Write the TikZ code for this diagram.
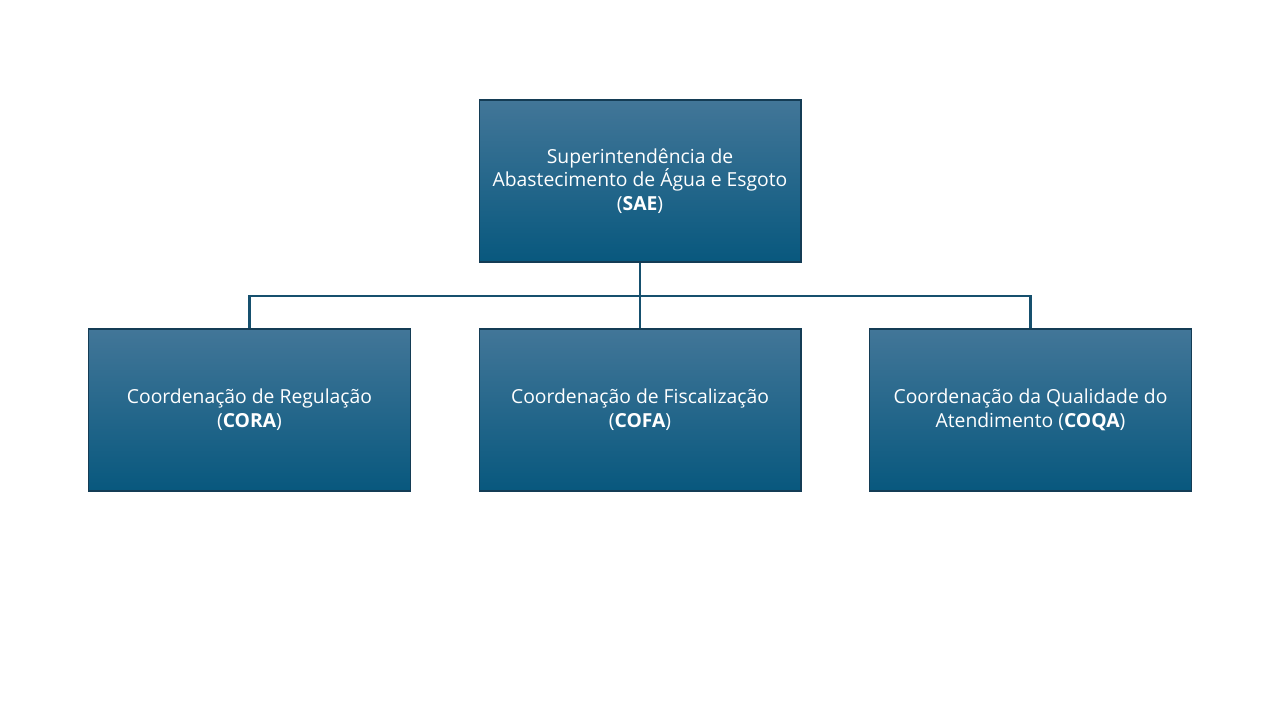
\documentclass[tikz,border=0pt]{standalone}
\usepackage{fontspec}
\setmainfont{Open Sans}
\usetikzlibrary{positioning}
\definecolor{boxtop}{RGB}{66,118,152}
\definecolor{boxbot}{RGB}{8,88,126}
\definecolor{edgeblue}{RGB}{20,60,85}
\definecolor{linkblue}{RGB}{22,80,110}

\begin{document}
\begin{tikzpicture}[x=0.02cm, y=-0.02cm, font=\fontsize{11}{13.5}\selectfont]
      \tikzstyle{unit}=[rectangle,draw=edgeblue,line width=0.6pt,align=center,text=white,
        minimum width=6.44cm,minimum height=3.24cm,inner sep=2pt,top color=boxtop,bottom color=boxbot]
      \tikzstyle{link}=[draw=linkblue,line width=1.2pt]
      \useasboundingbox (0,0) rectangle (1280,720);

      % units
      \node[unit] (sae) at (640,181) {Superintendência de\\Abastecimento de Água e Esgoto\\(\textbf{SAE})};
      \node[unit] (cofa) at (640,410) {Coordenação de Fiscalização\\(\textbf{COFA})};
      \node[unit] (cora) at (249.5,410) {Coordenação de Regulação\\(\textbf{CORA})};
      \node[unit] (coqa) at (1030.5,410) {Coordenação da Qualidade do\\Atendimento (\textbf{COQA})};

      % links
      \coordinate (bus) at (640,296);
      \draw[link] (sae.south) -- (cofa.north);
      \draw[link] (cora.north) |- (bus) -| (coqa.north);
    \end{tikzpicture}
\end{document}
